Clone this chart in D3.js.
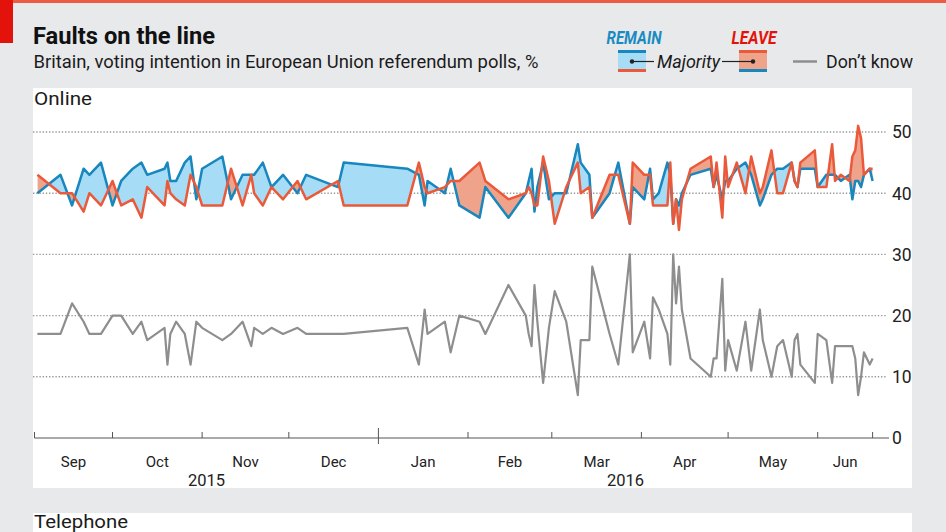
<!DOCTYPE html>
<html><head><meta charset="utf-8">
<script src="https://cdn.jsdelivr.net/npm/d3@7"></script>
<style>
body{margin:0;background:#e8e9eb}
svg{display:block}
text{font-family:Roboto,"Noto Sans",sans-serif}
</style>
</head><body>
<svg id="chart" width="946" height="532"></svg>
<script>
// ---- data ----
const dates = [
"2015-09-05","2015-09-13","2015-09-17","2015-09-21","2015-09-23","2015-09-27","2015-10-01","2015-10-04","2015-10-08","2015-10-11",
"2015-10-13","2015-10-19","2015-10-20","2015-10-21","2015-10-23","2015-10-26","2015-10-28","2015-10-30","2015-11-01","2015-11-08",
"2015-11-11","2015-11-15","2015-11-18","2015-11-19","2015-11-22","2015-11-25","2015-11-29","2015-12-04","2015-12-07","2015-12-18",
"2015-12-20","2016-01-11","2016-01-15","2016-01-17","2016-01-18","2016-01-24","2016-01-26","2016-01-29","2016-02-05","2016-02-07",
"2016-02-15","2016-02-21","2016-02-22","2016-02-23","2016-02-24","2016-02-25","2016-02-27","2016-02-29","2016-03-02","2016-03-06","2016-03-10",
"2016-03-11","2016-03-14","2016-03-15","2016-03-21","2016-03-24","2016-03-28","2016-03-29","2016-04-02","2016-04-04","2016-04-05",
"2016-04-07","2016-04-10","2016-04-11","2016-04-12","2016-04-13","2016-04-14","2016-04-15","2016-04-18","2016-04-25","2016-04-26",
"2016-04-27","2016-04-29","2016-04-30","2016-05-01","2016-05-04","2016-05-07","2016-05-09","2016-05-12","2016-05-13","2016-05-16",
"2016-05-18","2016-05-20","2016-05-23","2016-05-24","2016-05-25","2016-05-26","2016-05-31","2016-06-01","2016-06-04","2016-06-06",
"2016-06-07","2016-06-09","2016-06-12","2016-06-13","2016-06-14","2016-06-15","2016-06-16","2016-06-17","2016-06-19","2016-06-20"];
const remain = [
40,43,38,44,43,45,38,42,44,45,
43,44,45,42,42,45,46,39,44,46,
39,43,43,43,45,41,43,40,43,41,
45,44,43,38,42,40,44,38,36,41,
36,40,42,44,37,41,45,39,40,40,48,
45,43,36,40,45,35,41,39,44,39,
40,45,43,35,39,38,40,43,44,41,
43,39,42,42,44,45,43,38,39,43,
44,44,45,42,41,44,44,41,43,43,
43,42,43,39,42,42,41,43,44,42];
const leave = [
43,40,40,37,40,38,42,38,39,36,
41,38,42,40,39,38,43,41,38,38,
44,38,43,40,38,41,39,42,39,42,
38,38,45,41,40,41,42,42,45,42,
39,40,41,40,38,38,46,42,35,41,45,
40,41,36,43,43,35,45,43,43,38,
38,38,45,35,39,34,39,44,46,41,
45,36,46,41,45,40,46,40,41,47,
40,40,45,42,41,45,47,41,41,48,
42,43,42,46,47,51,49,43,44,44];
const dontKnow = [
17,17,22,19,17,17,20,20,17,19,
16,18,12,17,19,17,12,19,18,16,
17,19,15,18,17,18,17,18,17,17,
17,18,12,21,17,19,14,20,19,17,
25,20,17,15,25,19,9,18,24,19,7,
16,16,28,17,12,30,14,19,13,23,
21,17,12,30,22,28,21,13,10,13,
13,26,11,16,11,19,11,21,16,10,
15,16,10,16,17,12,9,17,16,9,
15,15,15,15,13,7,10,14,12,13];
const yTicks = [0,10,20,30,40,50];
const domainStart = "2015-09-04", domainEnd = "2016-06-20";
const yearLabels = ["2015","2016"];

// ---- setup ----
const parse = d3.utcParse("%Y-%m-%d");
const svg = d3.select("#chart");
const C = {blue:"#1787bd", red:"#ea5a3a", blueFill:"#a6dcf5", redFill:"#efa38b", grey:"#8e8e8e", ink:"#1b1b1b"};

const x = d3.scaleUtc().domain([parse(domainStart), parse(domainEnd)]).range([34.5, 872.6]);
const y = d3.scaleLinear().domain([0,50]).range([438, 132]);
const data = dates.map((d,i)=>({date:parse(d), r:remain[i], l:leave[i], dk:dontKnow[i]}));

// background and frame
svg.append("rect").attr("width",946).attr("height",532).attr("fill","#e8e9eb");
svg.append("rect").attr("width",946).attr("height",3).attr("fill","#ee5b45");
svg.append("rect").attr("width",13).attr("height",43).attr("fill","#e3120b");
svg.append("rect").attr("x",33).attr("y",88).attr("width",879).attr("height",400).attr("fill","#fff");
svg.append("rect").attr("x",33).attr("y",513).attr("width",879).attr("height",30).attr("fill","#fff");

// titles
svg.append("text").attr("x",33).attr("y",43.5).attr("font-size",24).attr("font-weight",700)
  .attr("fill","#111").attr("textLength",182).attr("lengthAdjust","spacingAndGlyphs").text("Faults on the line");
svg.append("text").attr("x",33.5).attr("y",67.5).attr("font-size",18.5)
  .attr("fill",C.ink).attr("textLength",505).attr("lengthAdjust","spacingAndGlyphs")
  .text("Britain, voting intention in European Union referendum polls, %");
svg.append("text").attr("x",34).attr("y",105).attr("font-size",18.5)
  .attr("fill",C.ink).attr("textLength",58).attr("lengthAdjust","spacingAndGlyphs").text("Online");
svg.append("text").attr("x",34).attr("y",528).attr("font-size",18.5)
  .attr("fill",C.ink).attr("textLength",94).attr("lengthAdjust","spacingAndGlyphs").text("Telephone");

// legend
const lg = svg.append("g");
lg.append("text").attr("x",606.5).attr("y",43.5).attr("font-size",18).attr("font-weight",700).attr("font-style","italic")
  .attr("fill","#1a8bc0").attr("textLength",55).attr("lengthAdjust","spacingAndGlyphs").text("REMAIN");
lg.append("text").attr("x",731.5).attr("y",43.5).attr("font-size",18).attr("font-weight",700).attr("font-style","italic")
  .attr("fill","#e3120b").attr("textLength",45).attr("lengthAdjust","spacingAndGlyphs").text("LEAVE");
function box(x0, fill, top, bottom){
  lg.append("rect").attr("x",x0).attr("y",50).attr("width",28).attr("height",22).attr("fill",fill);
  lg.append("rect").attr("x",x0).attr("y",50).attr("width",28).attr("height",3).attr("fill",top);
  lg.append("rect").attr("x",x0).attr("y",69).attr("width",28).attr("height",3).attr("fill",bottom);
}
box(618, C.blueFill, C.blue, C.red);
box(739, C.redFill, C.red, C.blue);
lg.append("line").attr("x1",632).attr("x2",654).attr("y1",61.5).attr("y2",61.5).attr("stroke","#222").attr("stroke-width",1.2);
lg.append("line").attr("x1",722).attr("x2",753).attr("y1",61.5).attr("y2",61.5).attr("stroke","#222").attr("stroke-width",1.2);
lg.append("circle").attr("cx",632).attr("cy",61.5).attr("r",2.2).attr("fill","#222");
lg.append("circle").attr("cx",753).attr("cy",61.5).attr("r",2.2).attr("fill","#222");
lg.append("text").attr("x",657).attr("y",67.5).attr("font-size",18.5).attr("font-style","italic")
  .attr("fill",C.ink).attr("textLength",63).attr("lengthAdjust","spacingAndGlyphs").text("Majority");
lg.append("line").attr("x1",793).attr("x2",817).attr("y1",61.5).attr("y2",61.5).attr("stroke",C.grey).attr("stroke-width",2.5);
lg.append("text").attr("x",826).attr("y",67.5).attr("font-size",18.5)
  .attr("fill",C.ink).attr("textLength",87).attr("lengthAdjust","spacingAndGlyphs").text("Don\u2019t know");

// gridlines + y labels
yTicks.forEach(t=>{
  if(t>0){
    svg.append("line").attr("x1",33).attr("x2",887).attr("y1",y(t)).attr("y2",y(t))
      .attr("stroke","#9a9a9a").attr("stroke-width",1.4).attr("stroke-dasharray","1.4,1.8");
  }
  svg.append("text").attr("x",892).attr("y",y(t)).attr("dy","0.36em").attr("font-size",17.5)
    .attr("fill","#222").text(t);
});

// difference fill
const areaBetween = d3.area().x(d=>x(d.date)).y0(d=>y(d.l)).y1(d=>y(d.r));
const defs = svg.append("defs");
defs.append("clipPath").attr("id","belowR").append("path")
  .attr("d", d3.area().x(d=>x(d.date)).y0(438).y1(d=>y(d.r))(data));
defs.append("clipPath").attr("id","aboveR").append("path")
  .attr("d", d3.area().x(d=>x(d.date)).y0(90).y1(d=>y(d.r))(data));
svg.append("path").attr("d",areaBetween(data)).attr("fill",C.blueFill).attr("clip-path","url(#belowR)");
svg.append("path").attr("d",areaBetween(data)).attr("fill",C.redFill).attr("clip-path","url(#aboveR)");

// lines
const mk = k => d3.line().x(d=>x(d.date)).y(d=>y(d[k]));
svg.append("path").attr("d",mk("dk")(data)).attr("fill","none").attr("stroke",C.grey).attr("stroke-width",2.2).attr("stroke-linejoin","round");
svg.append("path").attr("d",mk("r")(data)).attr("fill","none").attr("stroke",C.blue).attr("stroke-width",2.5).attr("stroke-linejoin","round");
svg.append("path").attr("d",mk("l")(data)).attr("fill","none").attr("stroke",C.red).attr("stroke-width",2.5).attr("stroke-linejoin","round");

// x axis
const [d0,d1] = x.domain();
const ticks = [d0, ...d3.utcMonth.range(d3.utcMonth.ceil(d0), d1), d1];
svg.append("line").attr("x1",x(d0)).attr("x2",889).attr("y1",438).attr("y2",438).attr("stroke","#555").attr("stroke-width",1);
ticks.forEach(t=>{
  const big = t.getUTCMonth()===0 && t.getUTCDate()===1;
  svg.append("line").attr("x1",x(t)).attr("x2",x(t)).attr("y1",big?428:432).attr("y2",big?444:438)
    .attr("stroke","#555").attr("stroke-width",1);
});
const fmt = d3.utcFormat("%b");
for(let i=0;i<ticks.length-1;i++){
  const m = d3.utcMonth.floor(ticks[i]);
  svg.append("text").attr("x",(x(ticks[i])+x(ticks[i+1]))/2).attr("y",466.5).attr("text-anchor","middle")
    .attr("font-size",15).attr("fill","#222").text(fmt(m));
}
const jan = ticks.find(t=>t.getUTCMonth()===0 && t.getUTCDate()===1);
[[d0,jan],[jan,d1]].forEach((p,i)=>{
  svg.append("text").attr("x",(x(p[0])+x(p[1]))/2).attr("y",485.5).attr("text-anchor","middle")
    .attr("font-size",16.5).attr("fill","#222").text(yearLabels[i]);
});
</script>
</body></html>
